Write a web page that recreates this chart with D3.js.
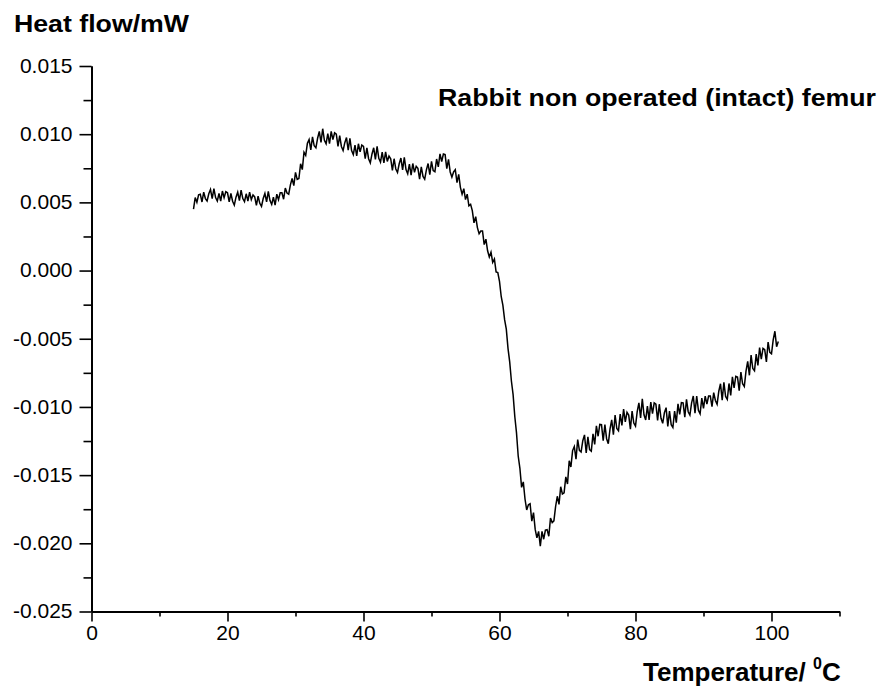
<!DOCTYPE html>
<html>
<head>
<meta charset="utf-8">
<script src="https://cdn.jsdelivr.net/npm/d3@7"></script>
<style>
body { margin: 0; background: #fff; }
text { font-family: "Liberation Sans", Arial, sans-serif; }
</style>
</head>
<body>
<div id="chart"></div>
<script>
var width = 879;
var height = 688;

// readings every 0.25 degC from 15 to 101, heat flow in units of 0.001 mW
var tempStart = 15;
var tempStep = 0.25;
var heatFlowE3 = [
  4.5, 5.35, 5.0, 5.55,   5.6, 5.03, 5.75, 5.28,   5.1, 5.63, 5.95, 5.28,   6.0, 5.35, 5.1, 5.65,
  5.1, 5.83, 5.35, 5.78,  5.7, 5.03, 5.65, 5.08,   4.8, 5.38, 5.75, 5.13,   5.9, 5.28, 5.05, 5.63,
  5.1, 5.75, 5.2, 5.55,   5.4, 4.78, 5.45, 4.93,   4.7, 5.28, 5.65, 5.03,   5.8, 5.13, 4.85, 5.38,
  4.8, 5.6, 5.2, 5.7,     5.7, 5.23, 6.05, 5.68,   5.6, 6.28, 6.75, 6.23,
  7.2, 6.68, 6.75, 7.83,  7.4, 8.68, 8.45, 9.33,   9.6, 8.85, 9.8, 9.15,    9.0, 9.7, 10.2, 9.4,
  10.4, 9.55, 9.3, 10.05, 9.3, 10.2, 9.6, 10.1,    10.0, 9.1, 9.9, 9.1,     8.8, 9.38, 9.75, 8.83,
  9.7, 8.8, 8.5, 9.2,     8.4, 9.3, 8.7, 9.2,      9.1, 8.2, 9.0, 8.2,      7.9, 8.55, 9.0, 8.15,
  9.1, 8.23, 7.95, 8.68,  7.9, 8.7, 8.0, 8.4,      8.2, 7.35, 8.2, 7.45,    7.2, 7.83, 8.25, 7.38,
  8.3, 7.4, 7.1, 7.8,     7.0, 7.85, 7.2, 7.65,    7.5, 6.7, 7.6, 6.9,      6.7, 7.38, 7.85, 7.03,
  8.0, 7.33, 7.25, 8.18,  7.6, 8.55, 8.0, 8.55,    8.5, 7.48, 8.15, 7.23,
  6.85, 7.23, 7.4, 6.45,  7.05, 6.1, 5.6, 6.0,     5.2, 5.6, 4.75, 4.85,    4.4, 3.5, 3.95, 3.15,
  2.7, 2.9, 2.9, 1.9,     2.3, 1.45, 1.0, 1.35,    0.6, 0.85, -0.1, -0.15,
  -0.8, -1.9, -2.55, -3.6,      -4.3, -5.7, -6.7, -8.1,         -9.1, -10.7, -11.9, -13.6,
  -14.5, -15.9, -15.5, -16.75,  -17.55, -17.18, -17.1, -18.38,  -17.75, -18.98, -19.6, -19.13,
  -20.2, -19.13, -19.7, -19.03, -19.0, -19.48, -18.15, -18.48,  -18.35, -17.3, -16.55, -17.15,
  -15.85, -16.38, -16.3, -15.13,
  -15.65, -13.95, -14.4, -13.2,  -12.9, -13.83, -12.4, -13.18,  -13.3, -12.48, -12.05, -13.38,
  -12.2, -13.13, -13.25, -11.98, -12.75, -11.38, -12.15, -11.28, -11.3, -12.48, -11.3, -12.33,
  -12.7, -11.63, -10.95, -12.03, -10.6, -11.58, -11.75, -10.53,  -11.35, -10.15, -11.1, -10.4,
  -10.6, -11.63, -10.3, -11.18,  -11.4, -10.35, -9.7, -10.8,     -9.4, -10.58, -10.95, -9.93,
  -10.95, -9.65, -10.5, -9.7,    -9.8, -10.98, -9.8, -10.83,     -11.2, -10.43, -10.05, -11.43,
  -10.3, -11.3, -11.5, -10.3,    -11.15, -9.78, -10.55, -9.68,   -9.7, -10.75, -9.45, -10.35,
  -10.6, -9.7, -9.2, -10.45,     -9.2, -10.25, -10.5, -9.35,     -10.1, -9.2, -9.8, -9.2,
  -9.2, -9.98, -8.95, -9.53,     -9.8, -8.85, -8.3, -9.5,        -8.2, -9.23, -9.45, -8.28,
  -9.15, -7.8, -8.6, -7.75,      -7.8, -8.8, -7.45, -8.3,        -8.5, -7.38, -6.65, -7.68,
  -6.2, -7.18, -7.35, -6.13,     -6.95, -5.65, -6.5, -5.7,       -5.8, -6.7, -5.25, -6.0,
  -6.1, -5.08, -4.45, -5.58,     -5.2
];

var xMajorTicks = [0, 20, 40, 60, 80, 100];
var xMinorTicks = [10, 30, 50, 70, 90, 110];
var yMajorTicks = [0.015, 0.010, 0.005, 0.000, -0.005, -0.010, -0.015, -0.020, -0.025];
var yMinorTicks = [0.0125, 0.0075, 0.0025, -0.0025, -0.0075, -0.0125, -0.0175, -0.0225];

var data = heatFlowE3.map(function(v, i) {
  return { t: tempStart + i * tempStep, v: v / 1000 };
});

var svg = d3.select("#chart")
            .append("svg")
            .attr("width", width)
            .attr("height", height);

var xScale = d3.scaleLinear()
               .domain([0, 110])
               .range([91.5, 839.5]);

var yScale = d3.scaleLinear()
               .domain([-0.025, 0.015])
               .range([611.5, 66]);

// axes, major and minor ticks drawn separately
var xAxis = svg.append("g")
   .attr("transform", "translate(0," + yScale(-0.025) + ")")
   .call(d3.axisBottom(xScale).tickValues(xMajorTicks).tickSize(10).tickSizeOuter(0).tickPadding(4)
         .tickFormat(d3.format("d")));
svg.append("g")
   .attr("transform", "translate(0," + yScale(-0.025) + ")")
   .call(d3.axisBottom(xScale).tickValues(xMinorTicks).tickSize(5).tickSizeOuter(0).tickFormat(""));

var yAxis = svg.append("g")
   .attr("transform", "translate(" + xScale(0) + ",0)")
   .call(d3.axisLeft(yScale).tickValues(yMajorTicks).tickSize(12).tickSizeOuter(0).tickPadding(7)
         .tickFormat(d3.format(".3f")));
svg.append("g")
   .attr("transform", "translate(" + xScale(0) + ",0)")
   .call(d3.axisLeft(yScale).tickValues(yMinorTicks).tickSize(8).tickSizeOuter(0).tickFormat(""));

svg.selectAll(".domain").attr("stroke", "#000").attr("stroke-width", 2);
svg.selectAll(".tick line").attr("stroke", "#000").attr("stroke-width", 1.6);
svg.selectAll(".tick text")
   .style("font-size", "21px")
   .style("font-family", "'Liberation Sans', Arial, sans-serif")
   .attr("fill", "#000");
yAxis.selectAll(".tick text").attr("dy", "0.3em")
     .text(function(d) { return d3.format(".3f")(d).replace("\u2212", "-"); });

// the trace
var line = d3.line()
             .x(function(d) { return xScale(d.t); })
             .y(function(d) { return yScale(d.v); });

svg.append("path")
   .datum(data)
   .attr("d", line)
   .attr("fill", "none")
   .attr("stroke", "#000")
   .attr("stroke-width", 1.5);

// labels
svg.append("text").attr("x", 14).attr("y", 32).text("Heat flow/mW")
   .attr("textLength", 175).attr("lengthAdjust", "spacingAndGlyphs")
   .style("font-size", "24px").style("font-weight", "bold");
svg.append("text").attr("x", 438).attr("y", 106).text("Rabbit non operated (intact) femur")
   .attr("textLength", 438).attr("lengthAdjust", "spacingAndGlyphs")
   .style("font-size", "23px").style("font-weight", "bold");

var xl = svg.append("text").attr("x", 643).attr("y", 681)
   .style("font-size", "26px").style("font-weight", "bold");
xl.append("tspan").text("Temperature/ ");
xl.append("tspan").text("0").style("font-size", "16px").attr("dy", -12);
xl.append("tspan").text("C").attr("dy", 12);
</script>
</body>
</html>
